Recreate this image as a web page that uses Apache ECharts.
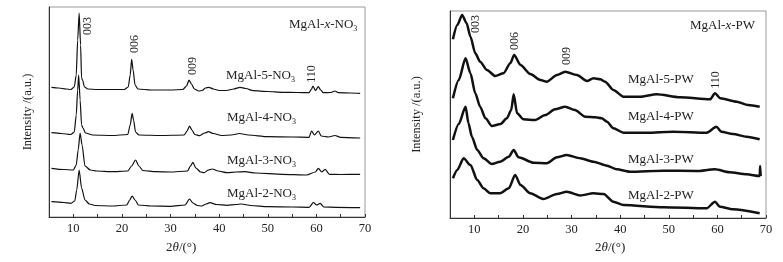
<!DOCTYPE html>
<html>
<head>
<meta charset="utf-8">
<script src="https://cdn.jsdelivr.net/npm/echarts@6/dist/echarts.min.js"></script>
<style>
html, body { margin: 0; background: #fff; }
#main { width: 783px; height: 262px; }
</style>
</head>
<body>
<div id="main"></div>
<script>
// x tick labels shown on both panels
var tickLabels = [10, 20, 30, 40, 50, 60, 70];

// left panel: MgAl-x-NO3, [2theta, intensity a.u.]
var no3_5 = [[5.5,129.7],[7,129],[8.5,128],[9.5,127.5],[10.2,130],[10.6,142],[10.9,177],[11.2,204],[11.5,172],[11.7,139],[11.9,137],[12.3,130],[13,128],[15,127.5],[18,127.5],[20.5,127.5],[21.3,130],[21.7,142],[22,157.7],[22.3,147],[22.7,132],[23.3,128],[26,127],[30,127],[32.5,127.5],[33.3,131],[33.8,137],[34.3,133],[34.9,128],[35.8,126],[36.5,126.5],[37.2,129],[37.9,129.7],[38.8,128],[40,126.5],[41.5,126.5],[43,128],[44.3,129.7],[45.5,128.5],[47,126.3],[50,125.5],[53,124.7],[56,124.5],[58.5,124.3],[59,128],[59.3,131],[59.8,126.5],[60.4,130.3],[60.9,127],[61.4,124.3],[63,124.5],[63.8,126],[64.5,124.3],[67,124],[69,123.7]];
var no3_4 = [[5.5,84.3],[7.5,83.5],[9.5,82.5],[10.2,85],[10.6,102],[10.9,127],[11.1,142],[11.4,117],[11.7,92],[12,89],[12.5,84],[14,82],[18,81.5],[21.2,82.5],[21.7,92],[22.1,103.7],[22.4,97],[22.8,85],[23.5,82],[28,81.5],[32.8,82],[33.4,86],[33.9,91],[34.4,87],[35,82.5],[36,81.3],[37,84],[37.8,85.3],[38.8,83.5],[40.5,81.5],[42.5,82],[44.2,83.5],[46,82],[50,80.3],[55,80],[58.5,79.7],[59,86],[59.6,82],[60.4,86],[61,81],[62.5,80],[63.8,81.5],[65,79.7],[69,79]];
var no3_3 = [[5.5,48.7],[8,47.5],[10,47],[10.6,52],[11,67],[11.4,84],[11.8,72],[12.4,51],[13.5,47],[14.8,46],[18,45.3],[21.2,46],[22,51],[22.8,57],[23.5,51],[24.3,46.5],[27,45.3],[30,45],[33.5,46],[34.1,51],[34.6,54.7],[35.2,49],[36.2,45],[36.9,44.3],[37.8,47],[38.6,48],[39.8,46],[41.6,44.3],[43.5,45],[45.3,45.3],[47.5,44],[53,42.7],[58,42],[59.8,45],[60.4,48.7],[61.1,45],[61.8,47.7],[62.7,42.7],[65,42.5],[69,42.7]];
var no3_2 = [[5.5,15.3],[8,14.5],[9.5,13.7],[10.3,16],[10.7,27],[11.2,47],[11.7,29],[12.4,17],[13.3,13],[14.5,11.5],[18,11],[21,12],[21.6,17],[22.1,21],[22.7,17],[23.4,12],[26,11],[30,10.7],[33,12],[33.9,18],[34.6,14],[35.5,11.5],[36.4,11],[37.3,13],[38.1,14.3],[39.5,12.5],[41.6,11.7],[43.5,12.5],[44.6,13],[46.5,11.5],[50,10.3],[55,10],[58.5,9.7],[59.4,14.7],[60,12],[60.8,13.7],[61.5,10],[64,9.7],[69,9.3]];

// right panel: MgAl-x-PW
var pw_5 = [[5.6,178.7],[6.5,193],[7.5,203],[8.4,195],[9.2,181.3],[10.2,164.7],[11.2,156.3],[12.6,148],[14.3,142],[16,144.7],[17.4,154.7],[18.2,163],[19.5,153],[21.5,144],[23.6,138],[24.9,136.3],[27,143],[28.7,146.3],[31.1,143],[33.2,137],[34.5,139.7],[35.9,138.7],[36.9,136.3],[38.6,128],[40.7,121.3],[44.1,121.3],[47.5,123.7],[52.3,120.7],[58.5,118.7],[59.5,124.7],[60.6,119.7],[64,116.3],[66.3,113],[68.7,111.3]];
var pw_4 = [[5.6,119.7],[6.8,138],[8.2,159.7],[9.2,144.7],[10.2,124.7],[11.2,111.3],[12.3,99.7],[13.6,92],[15.4,94],[16.7,99.7],[17.6,108],[18.1,123.7],[18.8,104.7],[20.1,98.7],[22.5,98],[24.6,103],[26.6,108.7],[28.7,111.3],[30.7,108],[32.8,101.3],[34.9,100.7],[36.2,99.7],[37.3,96.3],[38.6,89.7],[40.7,85.3],[45.5,85.3],[50.9,86.3],[57.8,85.3],[59.8,91.3],[60.8,86.3],[63.2,84],[66,81.3],[68.7,78.7]];
var pw_3 = [[5.6,78],[6.8,94],[8.2,111.3],[8.8,94.7],[9.5,81.3],[10.6,68],[11.9,59.7],[13.6,54],[15.3,56.3],[17.1,61.3],[18.1,68],[19.1,60.7],[22.2,55.3],[24.9,54.7],[27,60.7],[29,63],[31.8,59.7],[34.5,56.3],[37.3,52.3],[39.3,48.7],[42,46.3],[48.9,47.3],[55.7,47],[59.5,48.7],[62.5,45.7],[66,43.7],[68.7,42],[68.8,52],[68.9,42]];
var pw_2 = [[5.6,39.7],[6.5,48],[7.8,59.7],[9.2,53],[10.6,38],[11.9,29.7],[13.3,24.7],[15.3,24.7],[17.1,29.7],[18.4,43],[19.5,33],[21.5,24.7],[24.2,19],[27,24],[29,26.3],[31.8,22.5],[34.5,24.7],[36.6,24],[38.6,16.3],[40.7,13],[48.9,10.7],[57.8,9.7],[59.5,16.3],[60.5,11.3],[63.2,8.7],[68.7,4.7]];

var serif = 'Liberation Serif';

function xAx(gi) {
  return {
    type: 'value', gridIndex: gi, min: 5, max: 70, interval: 5,
    axisLine: { lineStyle: { color: '#333', width: 1 } },
    axisTick: { inside: true, length: 3, lineStyle: { color: '#333' } },
    axisLabel: {
      formatter: function (v) { return tickLabels.indexOf(v) >= 0 ? String(v) : ''; },
      color: '#222', fontFamily: serif, fontSize: 12.5, margin: 5
    },
    splitLine: { show: false }
  };
}
function yAx(gi, max, gap) {
  return {
    type: 'value', gridIndex: gi, min: 0, max: max,
    name: 'Intensity /(a.u.)', nameLocation: 'middle', nameGap: gap,
    nameTextStyle: { fontFamily: serif, fontSize: 12.5, color: '#222' },
    axisLine: { show: true, lineStyle: { color: '#333', width: 1 } },
    axisTick: { show: false }, axisLabel: { show: false },
    splitLine: { show: false }
  };
}
function line(data, gi, w) {
  return {
    type: 'line', xAxisIndex: gi, yAxisIndex: gi, data: data,
    showSymbol: false, smooth: 0.25, smoothMonotone: 'x',
    lineStyle: { color: '#111', width: w }
  };
}

var txt = function (x, y, text, size) {
  return {
    type: 'text', x: x, y: y,
    style: {
      text: text, fontFamily: serif, fontSize: size || 13, fill: '#222',
      align: 'left', verticalAlign: 'middle',
      rich: {
        a: { fontFamily: serif, fontSize: size || 13, fill: '#222' },
        i: { fontFamily: serif, fontSize: size || 13, fontStyle: 'italic', fill: '#222' },
        s: { fontFamily: serif, fontSize: 8, fill: '#222', padding: [7, 0, 0, 0] }
      }
    }
  };
};
// peak index labels, rotated to read bottom to top
var peak = function (x, y, text) {
  return {
    type: 'text', x: x, y: y, rotation: Math.PI / 2,
    style: { text: text, fontFamily: serif, fontSize: 12, fill: '#222', align: 'center', verticalAlign: 'middle' }
  };
};

var chart = echarts.init(document.getElementById('main'));
chart.setOption({
  animation: false,
  backgroundColor: '#fff',
  grid: [
    { left: 49, top: 7, width: 316, height: 210, show: true, borderColor: '#999', borderWidth: 1 },
    { left: 450, top: 11, width: 316, height: 207, show: true, borderColor: '#999', borderWidth: 1 }
  ],
  xAxis: [xAx(0), xAx(1)],
  yAxis: [yAx(0, 210, 15), yAx(1, 207, 27)],
  series: [
    line(no3_5, 0, 1.2), line(no3_4, 0, 1.2), line(no3_3, 0, 1.2), line(no3_2, 0, 1.2),
    line(pw_5, 1, 2.5), line(pw_4, 1, 2.5), line(pw_3, 1, 2.5), line(pw_2, 1, 2.5)
  ],
  graphic: [
    txt(166, 248, '{a|2}{i|θ}{a|/(°)}', 13),
    txt(595, 248, '{a|2}{i|θ}{a|/(°)}', 13),
    txt(289, 25, '{a|MgAl-}{i|x}{a|-NO}{s|3}'),
    txt(226, 76, '{a|MgAl-5-NO}{s|3}'),
    txt(227, 118, '{a|MgAl-4-NO}{s|3}'),
    txt(227, 161, '{a|MgAl-3-NO}{s|3}'),
    txt(227, 194, '{a|MgAl-2-NO}{s|3}'),
    peak(88, 26, '003'), peak(135, 44, '006'), peak(193, 66, '009'), peak(312, 74, '110'),
    txt(690, 26, '{a|MgAl-}{i|x}{a|-PW}'),
    txt(628, 80, '{a|MgAl-5-PW}'),
    txt(628, 117, '{a|MgAl-4-PW}'),
    txt(628, 160, '{a|MgAl-3-PW}'),
    txt(628, 196, '{a|MgAl-2-PW}'),
    peak(476, 24, '003'), peak(515, 41, '006'), peak(567, 56, '009'), peak(716, 80, '110')
  ]
});
window.addEventListener('resize', chart.resize);
</script>
</body>
</html>
